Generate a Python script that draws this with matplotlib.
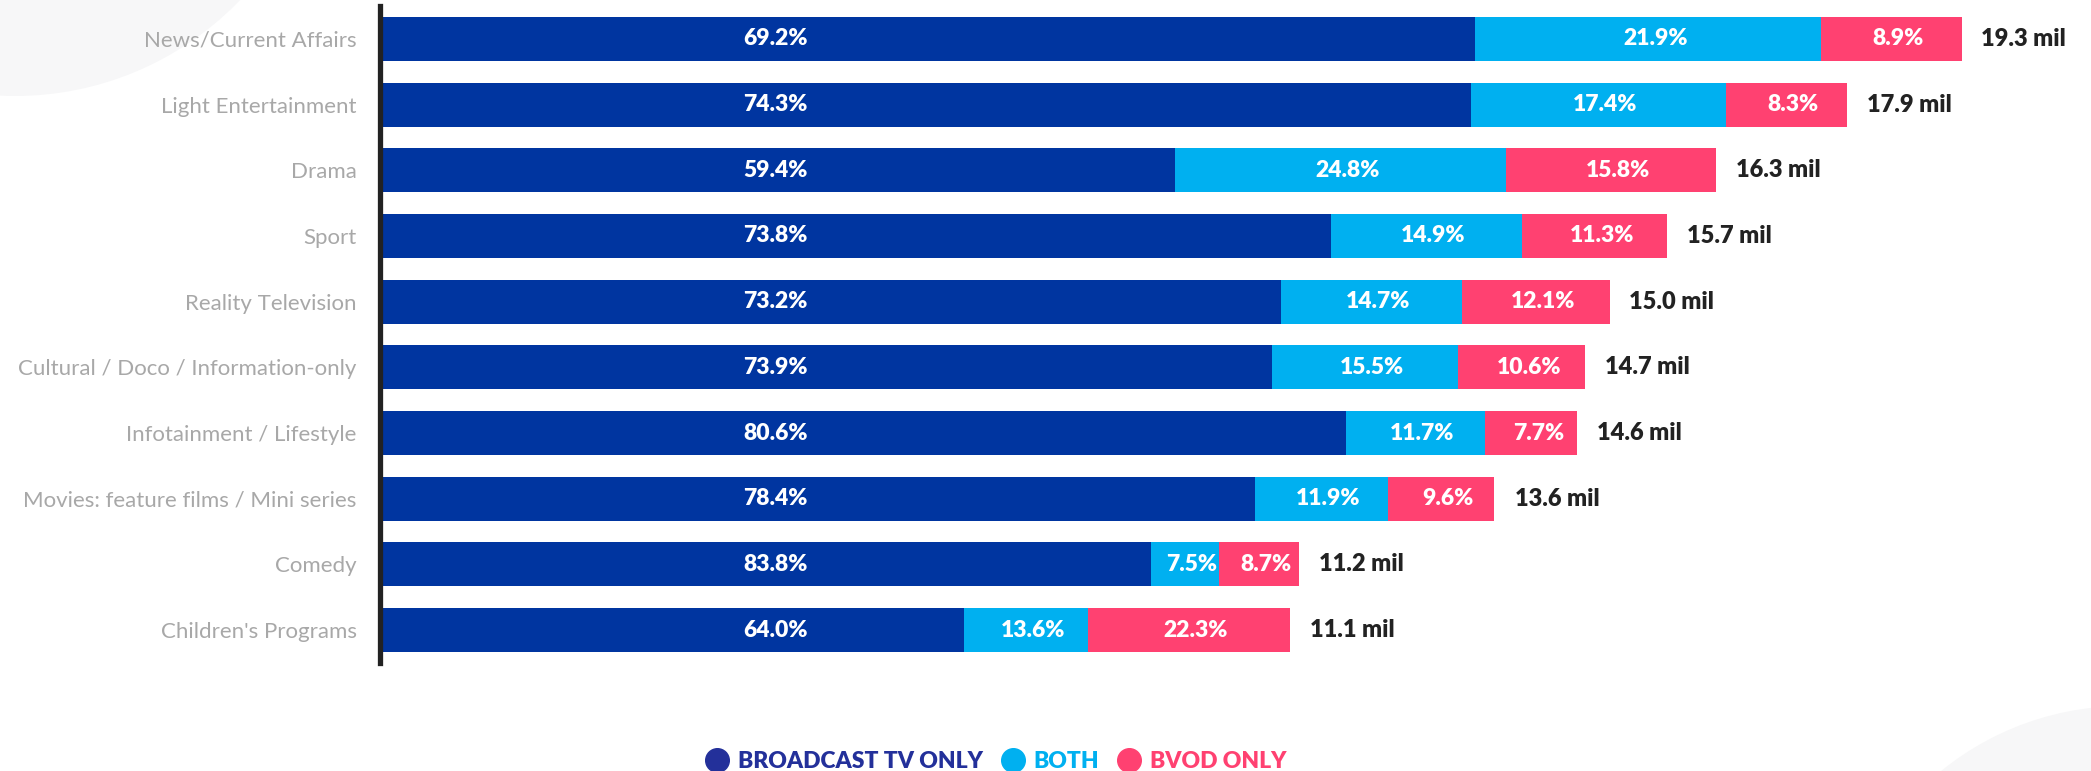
import matplotlib
matplotlib.use("Agg")
import matplotlib.pyplot as plt
from matplotlib.lines import Line2D
from matplotlib.patches import Circle
import numpy as np

plt.rcParams['font.family'] = ['Lato', 'DejaVu Sans']

categories = ['News/Current Affairs', 'Light Entertainment', 'Drama', 'Sport',
              'Reality Television', 'Cultural / Doco / Information-only',
              'Infotainment / Lifestyle', 'Movies: feature films / Mini series',
              'Comedy', "Children's Programs"]
totals = [19.3, 17.9, 16.3, 15.7, 15.0, 14.7, 14.6, 13.6, 11.2, 11.1]   # mil
broadcast = [69.2, 74.3, 59.4, 73.8, 73.2, 73.9, 80.6, 78.4, 83.8, 64.0]  # %
both = [21.9, 17.4, 24.8, 14.9, 14.7, 15.5, 11.7, 11.9, 7.5, 13.6]
bvod = [8.9, 8.3, 15.8, 11.3, 12.1, 10.6, 7.7, 9.6, 8.7, 22.3]
series_names = ['BROADCAST TV ONLY', 'BOTH', 'BVOD ONLY']

c_dark = '#0035a0'
c_light = '#00b0f0'
c_pink = '#ff4171'
c_legend_dark = '#23309a'

W, H = 2091, 771
fig = plt.figure(figsize=(W / 100, H / 100), dpi=100)

# faint background circles (pixel coords, y down)
def px_circle(cx, cy, r):
    return Circle((cx / 100, (H - cy) / 100), r / 100, transform=fig.dpi_scale_trans,
                  color='#f7f7f8', zorder=0, lw=0)
fig.patches.append(px_circle(15, -216, 312))
fig.patches.append(px_circle(2124, 996, 290))

ax = fig.add_axes([383 / W, 1 - 663 / H, 1 - 383 / W, (663 - 6) / H])
ax.set_zorder(2)
ax.patch.set_alpha(0)

y = np.arange(len(categories))
tot = np.array(totals)
b1 = tot * np.array(broadcast) / 100
b2 = tot * np.array(both) / 100
b3 = tot * np.array(bvod) / 100

h = 0.67
ax.barh(y, b1, height=h, color=c_dark, lw=0)
ax.barh(y, b2, left=b1, height=h, color=c_light, lw=0)
ax.barh(y, b3, left=b1 + b2, height=h, color=c_pink, lw=0)

lab_kw = dict(color='white', fontsize=16.5, fontweight='heavy', va='center')
dark_label_x = 4.8
for i in range(len(categories)):
    ax.text(dark_label_x, y[i], f'{broadcast[i]:.1f}%', ha='center', **lab_kw)
    ax.annotate(f'{both[i]:.1f}%', (b1[i] + b2[i] / 2, y[i]), xytext=(5, 0),
                textcoords='offset points', ha='center', **lab_kw)
    ax.annotate(f'{bvod[i]:.1f}%', (b1[i] + b2[i] + b3[i] / 2, y[i]), xytext=(5, 0),
                textcoords='offset points', ha='center', **lab_kw)
    ax.annotate(f'{totals[i]:.1f} mil', (tot[i], y[i]), xytext=(14, 0),
                textcoords='offset points', ha='left', va='center',
                color='#222222', fontsize=17, fontweight='heavy')

ax.set_xlim(0, (W - 383) / 81.8)
ax.set_ylim(9.5, -0.5)
ax.set_yticks(y)
ax.set_yticklabels(categories)
ax.tick_params(axis='y', length=0, pad=17, labelsize=16, labelcolor='#a8a8a8')
ax.set_xticks([])
for s in ['top', 'right', 'bottom']:
    ax.spines[s].set_visible(False)
ax.spines['left'].set_color('#222222')
ax.spines['left'].set_linewidth(3.8)
ax.spines['left'].set_position(('outward', 2))

handles = [Line2D([], [], ls='none', marker='o', markersize=17, markerfacecolor=c,
                  markeredgecolor=c) for c in [c_legend_dark, c_light, c_pink]]
fig.legend(handles, series_names, loc='center', bbox_to_anchor=(996 / W, 1 - 762 / H),
           ncol=3, frameon=False, labelcolor='markerfacecolor', handlelength=1.0,
           handletextpad=0.4, columnspacing=0.8, borderpad=0,
           prop={'weight': 'heavy', 'size': 16.5})

fig.savefig('out.png', dpi=100)
